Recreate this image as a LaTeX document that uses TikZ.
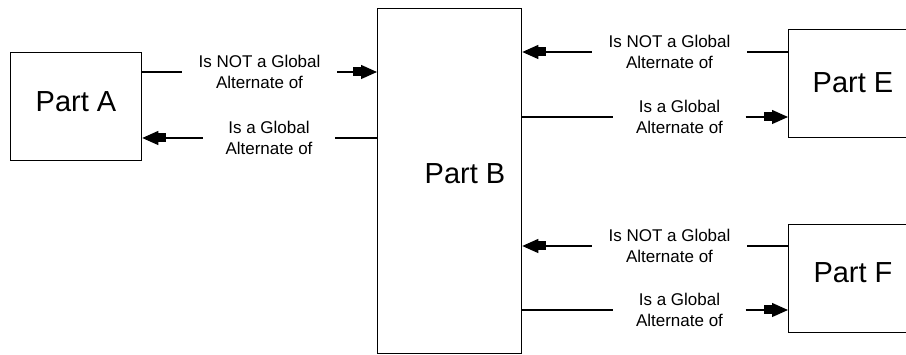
\documentclass[tikz,border=0pt]{standalone}
\usepackage{fontspec}
\setmainfont{Liberation Sans}
\usetikzlibrary{arrows.meta}
\begin{document}
\begin{tikzpicture}[x=1pt,y=-1pt,
  box/.style={draw=black,line width=1.3pt,inner sep=0pt,anchor=north west},
  partlbl/.style={font=\fontsize{29}{32}\selectfont,inner sep=0pt},
  lbl/.style={font=\fontsize{17}{21}\selectfont,align=center,inner sep=0pt},
  lblwide/.style={lbl,minimum width=155pt},
  lblnarrow/.style={lbl,minimum width=132pt},
  conn/.style={line width=1.3pt},
  arr/.style={conn,-{Rectangle[length=8pt,width=9pt]Triangle[length=16pt,width=14pt]}}]
\useasboundingbox (0,0) rectangle (906,355);
\clip (0,0) rectangle (906,355);
% boxes
\node[box,minimum width=131pt,minimum height=108pt] (A) at (10,52) {};
\node[box,minimum width=144pt,minimum height=345pt] (B) at (377,8) {};
\node[box,minimum width=150pt,minimum height=108pt] (E) at (788,29) {};
\node[box,minimum width=150pt,minimum height=108pt] (F) at (788,224) {};
% box labels
\node[partlbl] (lA) at (76,102) {Part A};
\node[partlbl] (lB) at (465,174) {Part B};
\node[partlbl] (lE) at (853,83) {Part E};
\node[partlbl] (lF) at (853,273) {Part F};
% A <-> B
\node[lblwide] (tA1) at (259.5,72) {Is NOT a Global\\Alternate of};
\node[lblnarrow] (tA2) at (269,138) {Is a Global\\Alternate of};
\draw[conn] (A.east |- tA1) -- (tA1.west);
\draw[arr] (tA1.east) -- (B.west |- tA1);
\draw[conn] (B.west |- tA2) -- (tA2.east);
\draw[arr] (tA2.west) -- (A.east |- tA2);
% B <-> E
\node[lblwide] (tE1) at (669.5,52) {Is NOT a Global\\Alternate of};
\node[lblnarrow] (tE2) at (679.5,117) {Is a Global\\Alternate of};
\draw[conn] (E.west |- tE1) -- (tE1.east);
\draw[arr] (tE1.west) -- (B.east |- tE1);
\draw[conn] (B.east |- tE2) -- (tE2.west);
\draw[arr] (tE2.east) -- (E.west |- tE2);
% B <-> F
\node[lblwide] (tF1) at (669.5,246) {Is NOT a Global\\Alternate of};
\node[lblnarrow] (tF2) at (679.5,310) {Is a Global\\Alternate of};
\draw[conn] (F.west |- tF1) -- (tF1.east);
\draw[arr] (tF1.west) -- (B.east |- tF1);
\draw[conn] (B.east |- tF2) -- (tF2.west);
\draw[arr] (tF2.east) -- (F.west |- tF2);
\end{tikzpicture}
\end{document}
